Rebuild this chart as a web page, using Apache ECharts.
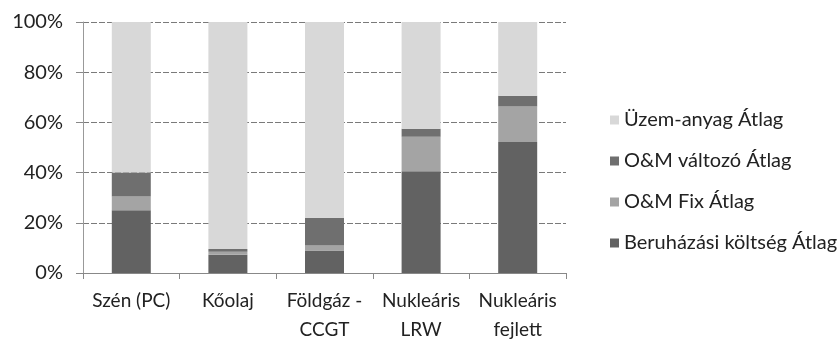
<!DOCTYPE html>
<html>
<head>
<meta charset="utf-8">
<script src="https://cdn.jsdelivr.net/npm/echarts@6/dist/echarts.min.js"></script>
<style>
html,body{margin:0;padding:0;background:#fff;}
#chart{width:838px;height:344px;}
</style>
</head>
<body>
<div id="chart"></div>
<script>
var categories = ['Szén (PC)', 'Kőolaj', 'Földgáz -\nCCGT', 'Nukleáris\nLRW', 'Nukleáris\nfejlett'];
var beruhazas = [25, 7.3, 9, 40.5, 52.2];
var omFix = [5.5, 1.2, 2, 13.8, 14.1];
var omValtozo = [9.5, 1.1, 11, 3.2, 4.3];
var uzemanyag = [60, 90.4, 78, 42.5, 29.4];
var seriesNames = ['Beruházási költség Átlag', 'O&M Fix Átlag', 'O&M változó Átlag', 'Üzem-anyag Átlag'];
var yTicks = [0, 20, 40, 60, 80, 100];

var colors = ['#626262', '#a4a4a4', '#6f6f6f', '#d8d8d8'];
var dataSets = [beruhazas, omFix, omValtozo, uzemanyag];
var font = 'Lato, "Open Sans", sans-serif';

var chart = echarts.init(document.getElementById('chart'), null, {renderer: 'canvas'});
chart.setOption({
  animation: false,
  backgroundColor: '#fff',
  grid: {left: 83, right: 272, top: 22, bottom: 66, containLabel: false},
  legend: {
    orient: 'vertical',
    left: 605,
    top: 104,
    itemWidth: 9,
    itemHeight: 9,
    itemGap: 19,
    icon: 'rect',
    data: seriesNames.slice().reverse(),
    textStyle: {fontFamily: font, fontSize: 20, color: '#222', lineHeight: 22, padding: [0, 0, 0, 0]}
  },
  xAxis: {
    type: 'category',
    data: categories,
    axisLine: {lineStyle: {color: '#888'}},
    axisTick: {show: true, length: 6, lineStyle: {color: '#888'}},
    axisLabel: {fontFamily: font, fontSize: 19, color: '#222', lineHeight: 29, margin: 13, interval: 0}
  },
  yAxis: {
    type: 'value',
    min: yTicks[0],
    max: yTicks[yTicks.length - 1],
    interval: 20,
    axisLine: {show: true, lineStyle: {color: '#999'}},
    axisTick: {show: true, length: 7, lineStyle: {color: '#888'}},
    axisLabel: {fontFamily: font, fontSize: 20, color: '#222', margin: 20, formatter: '{value}%'},
    splitLine: {lineStyle: {color: '#7a7a7a', type: [6, 2], width: 1}}
  },
  series: dataSets.map(function (d, i) {
    return {
      name: seriesNames[i],
      type: 'bar',
      stack: 'total',
      barWidth: 39,
      data: d,
      itemStyle: {color: colors[i]}
    };
  })
});
</script>
</body>
</html>
